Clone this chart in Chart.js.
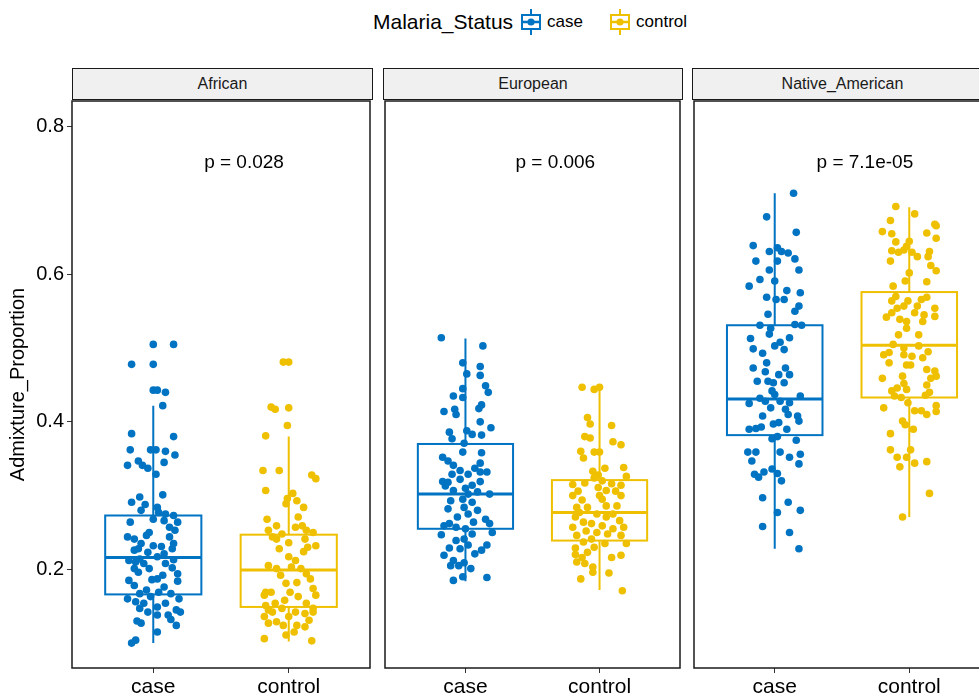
<!DOCTYPE html>
<html lang="en">
<head>
<meta charset="UTF-8" />
<title>Admixture proportion by malaria status</title>
<script src="https://cdn.jsdelivr.net/npm/chart.js@4"></script>
<style>
  html, body { margin: 0; padding: 0; background: #fff; overflow: hidden; }
  body { width: 979px; height: 696px; position: relative; font-family: "Liberation Sans", Arial, sans-serif; color: #000; }
  .legend { position: absolute; top: 8px; left: 373px; height: 28px; display: flex; align-items: center; white-space: nowrap; }
  .legend .ttl { font-size: 21px; margin-right: 6px; }
  .legend .lab { font-size: 17px; margin: 0 25px 0 4px; }
  .strip { position: absolute; top: 68px; height: 32px; box-sizing: border-box; border: 1.5px solid #1a1a1a; background: #f0f0f0; font-size: 16px; text-align: center; line-height: 29px; color: #1a1a1a; }
  canvas { position: absolute; top: 97px; }
</style>
</head>
<body>

  <!-- legend -->
  <div class="legend">
    <span class="ttl">Malaria_Status</span>
    <svg width="24" height="28"><line x1="12" y1="1" x2="12" y2="27" stroke="#0073C2" stroke-width="2"/><rect x="3" y="7" width="18" height="14" fill="#fff" stroke="#0073C2" stroke-width="2"/><line x1="3" y1="14" x2="21" y2="14" stroke="#0073C2" stroke-width="2.5"/><circle cx="12" cy="14" r="3.6" fill="#0073C2"/></svg>
    <span class="lab">case</span>
    <svg width="24" height="28"><line x1="12" y1="1" x2="12" y2="27" stroke="#EFC000" stroke-width="2"/><rect x="3" y="7" width="18" height="14" fill="#fff" stroke="#EFC000" stroke-width="2"/><line x1="3" y1="14" x2="21" y2="14" stroke="#EFC000" stroke-width="2.5"/><circle cx="12" cy="14" r="3.6" fill="#EFC000"/></svg>
    <span class="lab">control</span>
  </div>

  <!-- facet strips -->
  <div class="strip" style="left:72px; width:301px;">African</div>
  <div class="strip" style="left:383px; width:300px;">European</div>
  <div class="strip" style="left:692px; width:301px;">Native_American</div>

  <canvas id="pAfrican" width="374" height="599" style="left:0px;"></canvas>
  <canvas id="pEuropean" width="303" height="599" style="left:381px;"></canvas>
  <canvas id="pNative" width="304" height="599" style="left:690px;"></canvas>

<script>
// groups on the x axis
const groups = ['case', 'control'];
const yTicks = [0.2, 0.4, 0.6, 0.8];

// box stats: [lower whisker, q1, median, q3, upper whisker]
const africanCaseBox  = [0.100, 0.166, 0.216, 0.273, 0.422];
const africanCtrlBox  = [0.102, 0.149, 0.199, 0.247, 0.380];
const europeanCaseBox = [0.184, 0.255, 0.302, 0.370, 0.513];
const europeanCtrlBox = [0.172, 0.239, 0.277, 0.321, 0.449];
const nativeCaseBox   = [0.228, 0.382, 0.431, 0.531, 0.710];
const nativeCtrlBox   = [0.271, 0.433, 0.504, 0.576, 0.691];

const pLabels = ['p = 0.028', 'p = 0.006', 'p = 7.1e-05'];

// jittered points: values + horizontal jitter (category units)
const africanCaseVal = [0.505,0.505,0.478,0.478,0.443,0.443,0.440,0.422,0.384,0.380,0.362,0.362,0.362,0.360,0.355,0.341,0.347,0.341,0.337,0.345,0.329,0.301,0.298,0.291,0.288,0.284,0.280,0.277,0.275,0.273,0.268,0.266,0.264,0.264,0.257,0.253,0.250,0.246,0.244,0.244,0.235,0.232,0.231,0.228,0.228,0.226,0.223,0.221,0.217,0.214,0.213,0.210,0.208,0.208,0.201,0.201,0.202,0.196,0.194,0.192,0.187,0.186,0.185,0.184,0.178,0.176,0.172,0.167,0.169,0.167,0.160,0.163,0.160,0.156,0.154,0.154,0.149,0.147,0.145,0.142,0.138,0.138,0.142,0.130,0.127,0.132,0.124,0.115,0.100,0.104,0.212,0.235,0.241];
const africanCaseJit = [0,0.15,-0.16,0,0,0.03,0.09,0.07,-0.16,0.15,-0.17,-0.02,0.02,0.09,0.16,-0.19,-0.11,-0.08,-0.04,0.08,0.02,0.07,-0.10,-0.16,-0.06,0.03,-0.09,0.04,0.09,0.15,0,0.08,-0.17,0.18,0.12,0.16,-0.03,-0.05,-0.19,0.12,-0.09,0,0.06,-0.11,0.14,-0.14,-0.04,0.08,0.03,-0.10,0.15,-0.13,-0.07,0.09,-0.14,-0.03,0.14,-0.11,0.18,0.07,0.03,-0.01,-0.18,0.18,-0.14,0.08,-0.05,-0.10,0.04,0.13,-0.19,-0.02,0.19,-0.13,-0.07,0.09,0.03,-0.10,0.17,-0.04,0.03,0.11,0.20,-0.12,-0.09,0.13,0.17,0.03,-0.16,-0.13,-0.18,0.15,-0.14];

const africanCtrlVal = [0.481,0.481,0.420,0.417,0.419,0.395,0.381,0.334,0.334,0.328,0.323,0.307,0.303,0.296,0.293,0.289,0.284,0.271,0.268,0.259,0.257,0.253,0.253,0.250,0.248,0.244,0.241,0.241,0.236,0.232,0.230,0.228,0.224,0.217,0.212,0.203,0.205,0.201,0.201,0.194,0.192,0.187,0.181,0.182,0.174,0.169,0.165,0.169,0.165,0.163,0.158,0.154,0.151,0.154,0.147,0.145,0.142,0.142,0.140,0.136,0.136,0.129,0.131,0.127,0.124,0.124,0.122,0.115,0.106,0.111,0.103,0.142,0.169,0.259,0.147];
const africanCtrlJit = [-0.04,0,-0.13,-0.10,0,-0.01,-0.17,-0.19,-0.07,0.17,0.20,-0.17,0.03,-0.01,0.06,-0.02,0.11,0.07,-0.16,-0.09,0.05,-0.15,0.13,0.18,-0.05,-0.12,-0.09,0.12,0,0.20,0.14,-0.07,0.11,0,0.05,0.02,-0.15,-0.09,0.09,0.13,-0.06,0.16,-0.02,0.06,0.18,-0.13,-0.18,0.01,0.20,0.07,-0.03,-0.10,-0.17,0.13,-0.05,-0.15,0.18,0.05,0.12,-0.18,0,-0.09,0.15,-0.15,-0.04,0.06,0.12,0.04,-0.18,-0.02,0.17,-0.12,-0.17,0.10,0.18];

const europeanCaseVal = [0.514,0.503,0.480,0.475,0.465,0.463,0.449,0.445,0.440,0.435,0.433,0.423,0.417,0.418,0.414,0.410,0.400,0.392,0.386,0.388,0.383,0.382,0.377,0.371,0.359,0.358,0.352,0.347,0.341,0.344,0.337,0.334,0.329,0.329,0.332,0.319,0.322,0.319,0.313,0.314,0.310,0.307,0.302,0.305,0.302,0.295,0.293,0.291,0.284,0.282,0.280,0.275,0.271,0.268,0.262,0.264,0.262,0.257,0.255,0.250,0.247,0.248,0.241,0.239,0.233,0.233,0.229,0.228,0.219,0.221,0.226,0.212,0.209,0.205,0.205,0.201,0.190,0.185,0.189,0.259,0.318,0.332];
const europeanCaseJit = [-0.18,0.13,-0.02,0.11,0.01,0.11,0.15,-0.02,0.17,-0.09,-0.02,0.12,-0.08,0.10,-0.16,-0.07,0.11,0.19,-0.12,0.01,0.05,0.12,-0.10,-0.01,-0.02,0.12,-0.17,-0.13,-0.09,0.11,0.07,-0.04,0.02,-0.10,0.11,-0.17,-0.04,0.11,-0.15,0.05,0,-0.09,0.02,0.09,0.18,-0.02,-0.11,0.05,-0.01,-0.13,0.09,0.02,-0.06,0.15,-0.12,0.06,0.18,-0.07,0,0.20,-0.18,0.05,-0.01,-0.07,0.02,0.16,-0.12,-0.04,-0.16,0.07,0.12,-0.09,-0.01,-0.11,-0.05,0.04,-0.02,-0.09,0.16,-0.16,-0.13,0.16];

const europeanCtrlVal = [0.447,0.444,0.447,0.406,0.397,0.395,0.380,0.378,0.373,0.369,0.360,0.359,0.359,0.351,0.337,0.338,0.333,0.328,0.324,0.326,0.320,0.315,0.317,0.316,0.314,0.311,0.306,0.307,0.306,0.300,0.300,0.300,0.294,0.295,0.286,0.284,0.284,0.277,0.275,0.271,0.271,0.266,0.264,0.262,0.259,0.257,0.255,0.257,0.252,0.250,0.248,0.246,0.246,0.241,0.237,0.235,0.235,0.229,0.230,0.223,0.220,0.219,0.216,0.216,0.210,0.208,0.203,0.196,0.195,0.187,0.171,0.286,0.275];
const europeanCtrlJit = [-0.13,-0.04,0,-0.09,-0.07,0.09,-0.11,-0.07,0.10,0.16,-0.14,-0.04,0,-0.12,0.04,0.18,-0.05,-0.01,-0.04,0.20,0.02,-0.20,-0.11,0.09,0.16,-0.01,-0.16,0.05,0.12,0,-0.20,0.16,-0.13,0.02,0.13,-0.17,-0.09,-0.15,-0.02,0.05,-0.18,0.15,-0.12,-0.06,0.02,-0.20,0.10,0.18,-0.10,-0.02,0.06,0.16,-0.17,-0.06,-0.12,0.04,0.20,-0.18,-0.04,-0.09,-0.18,0.16,-0.13,0.09,-0.17,-0.11,-0.05,-0.05,0.07,-0.14,0.17,0.05,0.10];

const nativeCaseVal = [0.710,0.678,0.657,0.639,0.636,0.631,0.631,0.629,0.621,0.618,0.618,0.606,0.606,0.593,0.591,0.584,0.578,0.575,0.569,0.566,0.566,0.557,0.550,0.546,0.531,0.527,0.532,0.531,0.519,0.513,0.514,0.508,0.499,0.503,0.498,0.493,0.473,0.480,0.473,0.468,0.464,0.464,0.455,0.455,0.453,0.453,0.442,0.432,0.437,0.425,0.428,0.428,0.426,0.435,0.419,0.417,0.408,0.408,0.410,0.397,0.399,0.393,0.401,0.390,0.391,0.390,0.377,0.380,0.375,0.359,0.359,0.359,0.356,0.347,0.352,0.343,0.336,0.329,0.332,0.330,0.320,0.325,0.297,0.291,0.277,0.280,0.258,0.250,0.228];
const nativeCaseJit = [0.14,-0.06,0.16,-0.16,0.02,-0.04,0.05,0.10,0.15,-0.14,0.02,-0.04,0.18,-0.11,0,-0.19,0.09,0.19,-0.06,0.01,0.07,0.18,0.15,-0.05,-0.11,-0.03,0.15,0.20,-0.04,-0.18,0.11,0.04,-0.16,0,0.07,-0.09,-0.16,-0.06,0.08,-0.07,0.03,0.11,-0.13,-0.05,-0.01,0.07,-0.02,-0.11,0,-0.19,-0.07,0.04,0.11,0.19,-0.03,0.08,-0.09,0.17,0.10,-0.01,0.03,-0.10,0.18,-0.19,-0.14,0.09,-0.02,0.02,0.16,-0.20,-0.14,0.04,0.19,-0.17,0.11,0.18,-0.02,-0.15,-0.08,0.02,0.05,-0.12,-0.09,0.10,0.02,0.19,-0.09,0.11,0.18];

const nativeCtrlVal = [0.692,0.682,0.673,0.668,0.666,0.658,0.655,0.656,0.649,0.644,0.645,0.638,0.632,0.630,0.633,0.631,0.630,0.624,0.624,0.618,0.612,0.605,0.602,0.591,0.590,0.584,0.570,0.569,0.564,0.564,0.566,0.557,0.554,0.554,0.557,0.548,0.548,0.545,0.542,0.543,0.539,0.536,0.536,0.527,0.518,0.518,0.505,0.500,0.503,0.491,0.494,0.495,0.491,0.489,0.487,0.480,0.477,0.477,0.471,0.469,0.462,0.459,0.459,0.462,0.452,0.446,0.444,0.450,0.442,0.440,0.435,0.433,0.436,0.426,0.419,0.422,0.415,0.415,0.410,0.414,0.401,0.396,0.390,0.384,0.362,0.362,0.352,0.352,0.346,0.339,0.344,0.303,0.271];
const nativeCtrlJit = [-0.10,0.04,-0.14,0.19,0.20,-0.20,-0.13,0.13,0.20,-0.10,0,-0.02,-0.13,-0.08,-0.04,0.15,0.02,0.06,0.14,-0.14,0.16,0.20,0,-0.03,0.13,-0.12,-0.10,0.13,-0.13,-0.01,0.09,0.06,0.19,-0.09,-0.04,-0.13,0.04,0.11,-0.17,0.19,-0.07,-0.02,0.10,-0.02,-0.08,0.07,-0.12,-0.04,0.07,-0.19,-0.15,0.14,-0.04,0.02,0.10,-0.15,-0.02,0.01,0.13,0.19,-0.05,-0.20,0.16,0.20,-0.04,-0.09,-0.02,0.13,-0.13,0.15,-0.11,-0.06,0.12,-0.01,-0.19,0.20,0.04,0.09,0.13,0.20,-0.05,-0.03,0.03,-0.14,0.01,-0.14,-0.09,-0.02,0.13,-0.07,0.04,0.15,-0.05];

const caseColor = '#0073C2';
const ctrlColor = '#EFC000';
const fontFamily = '"Liberation Sans", Arial, sans-serif';

Chart.defaults.font.family = fontFamily;
Chart.defaults.color = '#000';

function toPoints(vals, jit, pos) {
  return vals.map((v, i) => ({ x: pos + (jit[i] || 0), y: v }));
}

// stop Chart.js from reserving room for overhanging tick labels
function noPad(s) {
  s.paddingTop = 0; s.paddingBottom = 0; s.paddingLeft = 0; s.paddingRight = 0;
}

function makePanel(id, caseVal, caseJit, ctrlVal, ctrlJit, caseBox, ctrlBox, pLabel, showY) {
  const boxes = [
    { pos: 1, stats: caseBox, color: caseColor },
    { pos: 2, stats: ctrlBox, color: ctrlColor }
  ];

  // boxes drawn under the points, using the chart scales
  const boxPlugin = {
    id: 'boxes',
    beforeDatasetsDraw(chart) {
      const { ctx, scales: { x, y } } = chart;
      boxes.forEach(b => {
        const [lo, q1, med, q3, hi] = b.stats;
        const xl = x.getPixelForValue(b.pos - 0.355);
        const xr = x.getPixelForValue(b.pos + 0.355);
        const xc = x.getPixelForValue(b.pos);
        ctx.save();
        ctx.strokeStyle = b.color;
        ctx.lineWidth = 2;
        ctx.beginPath();
        ctx.moveTo(xc, y.getPixelForValue(hi));
        ctx.lineTo(xc, y.getPixelForValue(q3));
        ctx.moveTo(xc, y.getPixelForValue(q1));
        ctx.lineTo(xc, y.getPixelForValue(lo));
        ctx.stroke();
        const yt = y.getPixelForValue(q3), yb = y.getPixelForValue(q1);
        ctx.fillStyle = '#fff';
        ctx.fillRect(xl, yt, xr - xl, yb - yt);
        ctx.strokeRect(xl, yt, xr - xl, yb - yt);
        ctx.lineWidth = 3;
        ctx.beginPath();
        ctx.moveTo(xl, y.getPixelForValue(med));
        ctx.lineTo(xr, y.getPixelForValue(med));
        ctx.stroke();
        ctx.restore();
      });
    },
    afterDraw(chart) {
      const { ctx, chartArea: a, scales: { x, y } } = chart;
      ctx.save();
      ctx.fillStyle = '#000';
      ctx.font = '19px ' + fontFamily;
      ctx.textAlign = 'center';
      ctx.textBaseline = 'middle';
      ctx.fillText(pLabel, x.getPixelForValue(1.67), y.getPixelForValue(0.751));
      ctx.strokeStyle = '#1a1a1a';
      ctx.lineWidth = 1.5;
      ctx.strokeRect(a.left, a.top, a.right - a.left, a.bottom - a.top);
      ctx.restore();
    }
  };

  new Chart(document.getElementById(id), {
    type: 'scatter',
    data: {
      datasets: [
        { label: 'case', data: toPoints(caseVal, caseJit, 1), backgroundColor: caseColor, pointRadius: 3.8, borderWidth: 0 },
        { label: 'control', data: toPoints(ctrlVal, ctrlJit, 2), backgroundColor: ctrlColor, pointRadius: 3.8, borderWidth: 0 }
      ]
    },
    options: {
      responsive: false,
      animation: false,
      layout: { padding: { top: 2, right: 2, left: showY ? 0 : 2, bottom: 0 } },
      plugins: { legend: { display: false }, tooltip: { enabled: false } },
      scales: {
        x: {
          type: 'linear',
          min: 0.4,
          max: 2.6,
          afterBuildTicks: s => { s.ticks = [{ value: 1 }, { value: 2 }]; },
          afterFit: s => { s.height = 28; noPad(s); },
          border: { display: false },
          grid: { drawOnChartArea: false, drawTicks: true, tickLength: 5, color: '#333' },
          ticks: { autoSkip: false, maxRotation: 0, padding: 2, font: { size: 21 }, color: '#000',
                   callback: v => groups[v - 1] }
        },
        y: {
          display: showY,
          min: 0.0662,
          max: 0.8351,
          afterBuildTicks: s => { s.ticks = yTicks.map(v => ({ value: v })); },
          afterFit: s => { if (showY) s.width = 72; noPad(s); },
          border: { display: false },
          grid: { drawOnChartArea: false, drawTicks: true, tickLength: 5, color: '#333' },
          ticks: { autoSkip: false, padding: 3, font: { size: 20 }, color: '#000',
                   callback: v => v.toFixed(1) },
          title: { display: true, text: 'Admixture_Proportion', font: { size: 20 }, color: '#000', padding: { top: 6, bottom: 0 } }
        }
      }
    },
    plugins: [boxPlugin]
  });
}

makePanel('pAfrican', africanCaseVal, africanCaseJit, africanCtrlVal, africanCtrlJit, africanCaseBox, africanCtrlBox, pLabels[0], true);
makePanel('pEuropean', europeanCaseVal, europeanCaseJit, europeanCtrlVal, europeanCtrlJit, europeanCaseBox, europeanCtrlBox, pLabels[1], false);
makePanel('pNative', nativeCaseVal, nativeCaseJit, nativeCtrlVal, nativeCtrlJit, nativeCaseBox, nativeCtrlBox, pLabels[2], false);
</script>
</body>
</html>
